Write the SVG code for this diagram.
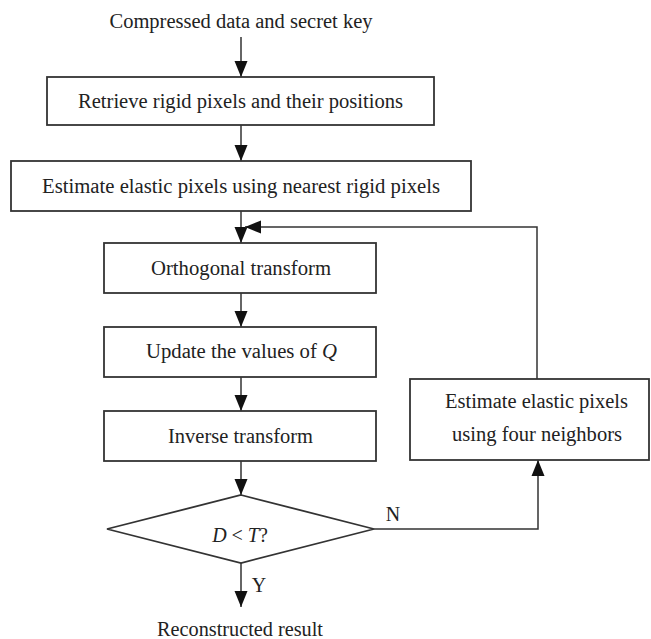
<svg xmlns="http://www.w3.org/2000/svg" width="651" height="639" viewBox="0 0 651 639">
<defs>
<style>
.box{fill:#fff;stroke:#333;stroke-width:1.8}
.ln{fill:none;stroke:#333;stroke-width:1.5}
.t{font-family:"Liberation Serif","Times New Roman",serif;font-size:20px;fill:#222;text-anchor:middle}
.i{font-style:italic}
</style>
<marker id="ah" markerUnits="userSpaceOnUse" markerWidth="17" markerHeight="14" refX="16" refY="7" orient="auto">
<path d="M0,0.5 L16,7 L0,13.5 z" fill="#111"/>
</marker>
</defs>
<rect width="651" height="639" fill="#fff"/>
<g id="connectors">
<line class="ln" x1="241" y1="37" x2="241" y2="77" marker-end="url(#ah)"/>
<line class="ln" x1="241" y1="125" x2="241" y2="161" marker-end="url(#ah)"/>
<line class="ln" x1="241" y1="211" x2="241" y2="243" marker-end="url(#ah)"/>
<line class="ln" x1="241" y1="293" x2="241" y2="327" marker-end="url(#ah)"/>
<line class="ln" x1="241" y1="377" x2="241" y2="411" marker-end="url(#ah)"/>
<line class="ln" x1="241" y1="461" x2="241" y2="495" marker-end="url(#ah)"/>
<line class="ln" x1="241" y1="563" x2="241" y2="607" marker-end="url(#ah)"/>
<path class="ln" d="M537,379 V227 H245" marker-end="url(#ah)"/>
<path class="ln" d="M374,529 H538 V460" marker-end="url(#ah)"/>
<text class="t" x="393" y="521">N</text>
<text class="t" x="259" y="592">Y</text>
</g>
<g id="start"><text class="t" x="241" y="28" textLength="263" lengthAdjust="spacingAndGlyphs">Compressed data and secret key</text></g>
<g id="retrieve">
<rect class="box" x="47" y="77" width="387" height="48"/>
<text class="t" x="240.5" y="108" textLength="325" lengthAdjust="spacingAndGlyphs">Retrieve rigid pixels and their positions</text>
</g>
<g id="estimate-nearest">
<rect class="box" x="11" y="161" width="460" height="50"/>
<text class="t" x="241" y="193" textLength="398" lengthAdjust="spacingAndGlyphs">Estimate elastic pixels using nearest rigid pixels</text>
</g>
<g id="orthogonal">
<rect class="box" x="104" y="243" width="272" height="50"/>
<text class="t" x="241" y="275" textLength="180" lengthAdjust="spacingAndGlyphs">Orthogonal transform</text>
</g>
<g id="update">
<rect class="box" x="104" y="327" width="272" height="50"/>
<text class="t" x="241.5" y="358" textLength="191" lengthAdjust="spacingAndGlyphs">Update the values of <tspan class="i">Q</tspan></text>
</g>
<g id="inverse">
<rect class="box" x="104" y="411" width="272" height="50"/>
<text class="t" x="240.5" y="443" textLength="145" lengthAdjust="spacingAndGlyphs">Inverse transform</text>
</g>
<g id="decision">
<polygon class="box" points="241,495 374,529 241,563 107,529"/>
<text class="t" x="240" y="542"><tspan class="i">D</tspan> &lt; <tspan class="i">T</tspan>?</text>
</g>
<g id="estimate-four">
<rect class="box" x="410" y="379" width="239" height="81"/>
<text class="t" x="536.5" y="408" textLength="183" lengthAdjust="spacingAndGlyphs">Estimate elastic pixels</text>
<text class="t" x="537" y="441" textLength="170" lengthAdjust="spacingAndGlyphs">using four neighbors</text>
</g>
<g id="end"><text class="t" x="240" y="636" textLength="166" lengthAdjust="spacingAndGlyphs">Reconstructed result</text></g>
</svg>
